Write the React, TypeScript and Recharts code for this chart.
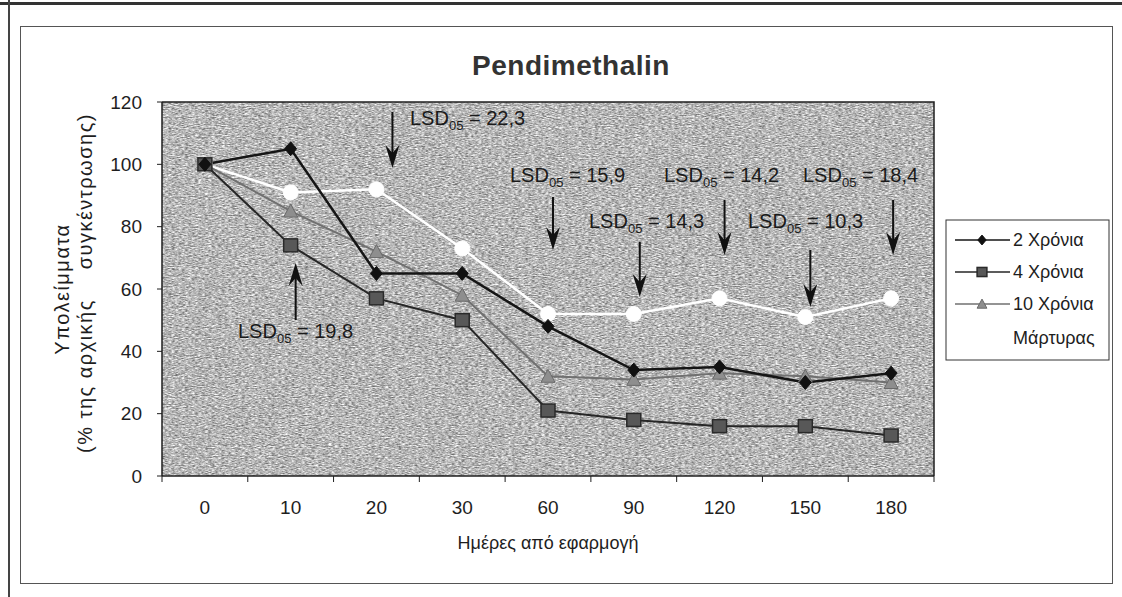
import React from 'react'
import { LineChart, Line, XAxis, YAxis } from 'recharts'

// Pendimethalin residues (% of initial concentration) vs days after application.

const days = ['0', '10', '20', '30', '60', '90', '120', '150', '180']
const twoYears = [100, 105, 65, 65, 48, 34, 35, 30, 33]
const fourYears = [100, 74, 57, 50, 21, 18, 16, 16, 13]
const tenYears = [100, 85, 72, 58, 32, 31, 33, 32, 30]
const control = [100, 91, 92, 73, 52, 52, 57, 51, 57]
const yTicks = [0, 20, 40, 60, 80, 100, 120]

// LSD(0.05) notes and the day each arrow points at
const lsdDays = ['10', '20', '60', '90', '120', '150', '180']
const lsdValues = ['19,8', '22,3', '15,9', '14,3', '14,2', '10,3', '18,4']

const W = 1122
const H = 597
const PLOT_L = 162
const PLOT_R = 934
const PLOT_T = 102
const PLOT_B = 476
const BAND = (PLOT_R - PLOT_L) / days.length
const FONT = "'Liberation Sans', Arial, sans-serif"
const INK = '#1e1e1e'

// where each LSD note sits: text left/baseline, arrow x shift, arrow tail/tip
const lsdLayout = [
  { tx: 238, ty: 338, dx: 5, tail: 320, tip: 263 },
  { tx: 410, ty: 125, dx: 16, tail: 112, tip: 168 },
  { tx: 510, ty: 182, dx: 5, tail: 197, tip: 250 },
  { tx: 589, ty: 228, dx: 6, tail: 242, tip: 297 },
  { tx: 664, ty: 182, dx: 5, tail: 200, tip: 255 },
  { tx: 748, ty: 228, dx: 5, tail: 250, tip: 307 },
  { tx: 803, ty: 182, dx: 2, tail: 200, tip: 255 },
]

const rows = days.map((d, i) => ({
  day: d,
  two: twoYears[i],
  four: fourYears[i],
  ten: tenYears[i],
  ctrl: control[i],
}))

type Mark = (cx: number, cy: number, k?: string | number, s?: number) => React.ReactElement

const diamond: Mark = (cx, cy, k, s = 1) => (
  <path
    key={k}
    d={`M${cx},${cy - 7 * s}L${cx + 6 * s},${cy}L${cx},${cy + 7 * s}L${cx - 6 * s},${cy}Z`}
    fill="#111"
    stroke="#111"
  />
)
const square: Mark = (cx, cy, k, s = 1) => (
  <rect
    key={k}
    x={cx - 7 * s}
    y={cy - 6.5 * s}
    width={14 * s}
    height={13 * s}
    fill="#585858"
    stroke="#2a2a2a"
    strokeWidth={1.5}
  />
)
const triangle: Mark = (cx, cy, k, s = 1) => (
  <path
    key={k}
    d={`M${cx},${cy - 7 * s}L${cx + 7 * s},${cy + 6 * s}L${cx - 7 * s},${cy + 6 * s}Z`}
    fill="#8e8e8e"
    stroke="#6a6a6a"
  />
)
const circle: Mark = (cx, cy, k, s = 1) => <circle key={k} cx={cx} cy={cy} r={7.5 * s} fill="#fff" stroke="#fff" />

const series = [
  { key: 'two', name: '2 Χρόνια', color: '#151515', width: 2.5, mark: diamond },
  { key: 'four', name: '4 Χρόνια', color: '#262626', width: 2, mark: square },
  { key: 'ten', name: '10 Χρόνια', color: '#707070', width: 2, mark: triangle },
  { key: 'ctrl', name: 'Μάρτυρας', color: '#ffffff', width: 2.5, mark: circle },
]

function DayTick(props: any) {
  const { x, payload, index } = props
  return (
    <g>
      <line x1={x - BAND / 2} x2={x - BAND / 2} y1={PLOT_B} y2={PLOT_B + 6} stroke={INK} />
      {index === days.length - 1 && (
        <line x1={x + BAND / 2} x2={x + BAND / 2} y1={PLOT_B} y2={PLOT_B + 6} stroke={INK} />
      )}
      <text x={x} y={PLOT_B + 38} textAnchor="middle" fontSize={19} fill={INK} fontFamily={FONT}>
        {payload.value}
      </text>
    </g>
  )
}

function Arrow({ x, tail, tip }: { x: number; tail: number; tip: number }) {
  const dir = tip > tail ? 1 : -1
  return (
    <g>
      <line x1={x} x2={x} y1={tail} y2={tip - dir * 14} stroke="#111" strokeWidth={2} />
      <path
        d={`M${x},${tip}L${x + 7},${tip - dir * 23}L${x},${tip - dir * 15}L${x - 7},${tip - dir * 23}Z`}
        fill="#111"
      />
    </g>
  )
}

function Grain() {
  const w = PLOT_R - PLOT_L
  const h = PLOT_B - PLOT_T
  return (
    <div style={{ position: 'absolute', left: PLOT_L, top: PLOT_T, width: w, height: h }}>
      <svg width={w} height={h} style={{ display: 'block' }}>
        <filter id="grain" x="0" y="0" width="100%" height="100%" colorInterpolationFilters="sRGB">
          <feTurbulence type="fractalNoise" baseFrequency="0.3 1.1" numOctaves={2} seed={4} />
          <feColorMatrix
            type="matrix"
            values="0.85 0 0 0 0.29  0.85 0 0 0 0.29  0.85 0 0 0 0.29  0 0 0 0 1"
          />
        </filter>
        <rect width={w} height={h} filter="url(#grain)" />
      </svg>
    </div>
  )
}

export default function App() {
  const legendY = [240, 272, 304, 338]
  return (
    <div
      style={{
        position: 'absolute',
        left: 0,
        top: 0,
        width: W,
        height: H,
        background: '#fff',
        fontFamily: FONT,
        overflow: 'hidden',
      }}
    >
      {/* scanned page edges and chart frame */}
      <div style={{ position: 'absolute', left: 0, top: 2, width: W, height: 3, background: '#333' }} />
      <div style={{ position: 'absolute', left: 8, top: 0, width: 2, height: H, background: '#444' }} />
      <div
        style={{
          position: 'absolute',
          left: 20,
          top: 26,
          width: 1113 - 20,
          height: 584 - 26,
          border: '1px solid #555',
          boxSizing: 'border-box',
        }}
      />

      <Grain />

      <div style={{ position: 'absolute', left: 0, top: 0 }}>
        <LineChart
          width={W}
          height={H}
          data={rows}
          margin={{ top: PLOT_T, right: W - PLOT_R, bottom: H - PLOT_B - 30, left: PLOT_L - 60 }}
        >
          <XAxis
            dataKey="day"
            height={30}
            padding={{ left: BAND / 2, right: BAND / 2 }}
            axisLine={{ stroke: INK, strokeWidth: 1.5 }}
            tickLine={false}
            interval={0}
            tick={<DayTick />}
          />
          <YAxis
            width={60}
            domain={[0, 120]}
            ticks={yTicks}
            interval={0}
            axisLine={{ stroke: INK, strokeWidth: 1.5 }}
            tickLine={{ stroke: INK }}
            tickSize={5}
            tickMargin={15}
            tick={{ fill: INK, fontSize: 19, fontFamily: FONT }}
          />
          {[...series].reverse().map((s) => (
            <Line
              key={s.key}
              dataKey={s.key}
              name={s.name}
              type="linear"
              stroke={s.color}
              strokeWidth={s.width}
              isAnimationActive={false}
              activeDot={false}
              dot={(p: any) => s.mark(p.cx, p.cy, `${s.key}-${p.index}`)}
            />
          ))}
        </LineChart>
      </div>

      <svg width={W} height={H} style={{ position: 'absolute', left: 0, top: 0, pointerEvents: 'none' }}>
        {/* plot frame top and right */}
        <path d={`M${PLOT_L},${PLOT_T}H${PLOT_R}V${PLOT_B}`} fill="none" stroke={INK} strokeWidth={1.5} />

        <text
          x={571}
          y={75}
          textAnchor="middle"
          fontSize={28}
          fontWeight="bold"
          letterSpacing={0.5}
          fill="#333"
          fontFamily={FONT}
        >
          Pendimethalin
        </text>

        <text
          transform="translate(69,289) rotate(-90)"
          textAnchor="middle"
          fontSize={20}
          letterSpacing={1.5}
          fill={INK}
          fontFamily={FONT}
        >
          Υπολείμματα
        </text>
        <text
          transform="translate(92,453) rotate(-90)"
          textAnchor="start"
          fontSize={20}
          letterSpacing={1.5}
          fill={INK}
          fontFamily={FONT}
        >
          (% της αρχικής
        </text>
        <text
          transform="translate(92,113) rotate(-90)"
          textAnchor="end"
          fontSize={20}
          letterSpacing={1.5}
          fill={INK}
          fontFamily={FONT}
        >
          συγκέντρωσης)
        </text>

        <text x={(PLOT_L + PLOT_R) / 2} y={549} textAnchor="middle" fontSize={18} fill={INK} fontFamily={FONT}>
          Ημέρες από εφαρμογή
        </text>

        {lsdValues.map((v, i) => {
          const L = lsdLayout[i]
          const idx = days.indexOf(lsdDays[i])
          const ax = PLOT_L + BAND * (idx + 0.5) + L.dx
          return (
            <g key={v + i}>
              <Arrow x={ax} tail={L.tail} tip={L.tip} />
              <text x={L.tx} y={L.ty} fontSize={20} fill="#1a1a1a" fontFamily={FONT}>
                LSD
                <tspan fontSize={13} dy={5}>
                  05
                </tspan>
                <tspan dy={-5}> = {v}</tspan>
              </text>
            </g>
          )
        })}

        {/* legend */}
        <rect x={946} y={220} width={163} height={140} fill="#fff" stroke="#333" />
        {series.map((s, i) => (
          <g key={s.key}>
            <line x1={955} x2={1010} y1={legendY[i]} y2={legendY[i]} stroke={s.color} strokeWidth={1.5} />
            {s.mark(982, legendY[i], undefined, 0.7)}
            <text x={1013} y={legendY[i] + 6} fontSize={18} fill={INK} fontFamily={FONT}>
              {s.name}
            </text>
          </g>
        ))}
      </svg>
    </div>
  )
}
